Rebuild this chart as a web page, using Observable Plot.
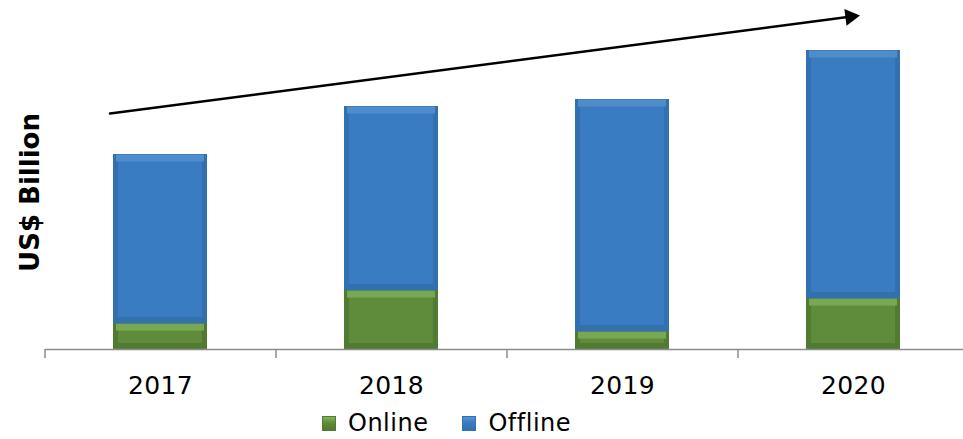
<!DOCTYPE html>
<html>
<head>
<meta charset="utf-8">
<script src="https://cdn.jsdelivr.net/npm/d3@7"></script>
<script src="https://cdn.jsdelivr.net/npm/@observablehq/plot@0.6"></script>
<style>
  html, body { margin: 0; padding: 0; background: #fff; }
  #wrap { position: relative; width: 963px; height: 439px; overflow: hidden; font-family: "DejaVu Sans", Verdana, sans-serif; }
  #legend { position: absolute; left: 322px; top: 409px; display: flex; align-items: center; font-size: 24px; letter-spacing: 0.5px; color: #000; }
  .item { display: flex; align-items: center; margin-right: 34px; }
  .sw { width: 14px; height: 15px; margin-right: 12px; box-sizing: border-box; }
</style>
</head>
<body>
<div id="wrap"><div id="chart"></div><div id="legend"></div></div>
<script>
const years = ["2017", "2018", "2019", "2020"];
const online = [2.6, 5.9, 1.8, 5.1];
const offline = [16.9, 18.4, 23.2, 24.8];
const seriesNames = ["Online", "Offline"];
const yLabel = "US$ Billion";
const trendStart = 24.26;
const trendEnd = 33.32;

const colors = {
  Online: {face: "#5f8c3b", light: "#80b55a", dark: "#517a32"},
  Offline: {face: "#3a7cc1", light: "#5593d3", dark: "#3370b0"}
};

const segments = [];
years.forEach((yr, i) => {
  segments.push({year: yr, series: "Online", y1: 0, y2: online[i]});
  segments.push({year: yr, series: "Offline", y1: online[i], y2: online[i] + offline[i]});
});
const trend = [{x1: years[0], y1: trendStart, x2: years[3], y2: trendEnd}];

const chart = Plot.plot({
  width: 963,
  height: 400,
  marginLeft: 45,
  marginRight: -6,
  marginTop: 35,
  marginBottom: 51,
  style: {fontFamily: "DejaVu Sans, Verdana, sans-serif", fontSize: "25px", color: "#000", background: "transparent"},
  x: {domain: years, paddingInner: 0.593, paddingOuter: 0.2965, tickSize: 0, tickPadding: 27, label: null},
  y: {domain: [0, 31.4], axis: null},
  marks: [
    Plot.barY(segments, {x: "year", y1: "y1", y2: "y2", fill: d => colors[d.series].dark}),
    Plot.barY(segments, {x: "year", y1: "y1", y2: "y2", fill: d => colors[d.series].face, insetLeft: 5, insetRight: 5, insetTop: 7, insetBottom: 6}),
    Plot.tickY(segments, {x: "year", y: "y2", stroke: d => colors[d.series].light, strokeWidth: 7, dy: 3.5, insetLeft: 3, insetRight: 3, strokeOpacity: 0.8}),
    Plot.tickY(segments, {x: "year", y: "y1", stroke: d => colors[d.series].dark, strokeWidth: 5, dy: -2.5, insetLeft: 3, insetRight: 3, strokeOpacity: 0.8}),
    Plot.ruleY([0], {stroke: "#8c8c8c", strokeWidth: 1.5}),
    Plot.ruleX(years, {x: d => d, dx: -115.5, y1: 0, y2: -0.9, stroke: "#8c8c8c", strokeWidth: 1.5}),
    Plot.text([yLabel], {text: d => d, frameAnchor: "left", textAnchor: "middle", dx: -15, rotate: -90, fontSize: 26, fontWeight: "bold", fill: "#000"}),
    Plot.arrow(trend, {x1: "x1", y1: "y1", x2: "x2", y2: "y2", insetStart: -50.9, insetEnd: 2, headLength: 0, stroke: "#000", strokeWidth: 2.5}),
    Plot.dot(trend, {x: "x2", y: d => d.y2 - 0.05, dx: -3.2, symbol: "triangle", r: 6.3, rotate: 82.5, fill: "#000", stroke: "none"})
  ]
});
document.getElementById("chart").appendChild(chart);
chart.querySelectorAll('[aria-label^="x-axis"] text').forEach(t => { t.style.letterSpacing = "0.3px"; });

const legend = document.getElementById("legend");
seriesNames.forEach(name => {
  const it = document.createElement("div");
  it.className = "item";
  const sw = document.createElement("div");
  sw.className = "sw";
  sw.style.background = `linear-gradient(to bottom, ${colors[name].light} 0%, ${colors[name].face} 45%, ${colors[name].dark} 100%)`;
  sw.style.border = `1px solid ${colors[name].dark}`;
  const tx = document.createElement("span");
  tx.textContent = name;
  it.appendChild(sw); it.appendChild(tx);
  legend.appendChild(it);
});
</script>
</body>
</html>
